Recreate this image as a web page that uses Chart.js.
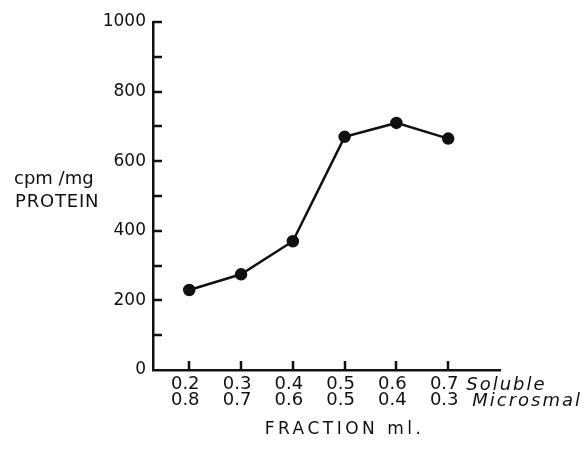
<!DOCTYPE html>
<html>
<head>
<meta charset="utf-8">
<script src="https://cdn.jsdelivr.net/npm/chart.js@4/dist/chart.umd.min.js"></script>
<style>
  html, body { margin: 0; padding: 0; background: #fff; }
  #wrap { width: 583px; height: 453px; position: relative; }
</style>
</head>
<body>
<div id="wrap"><canvas id="c"></canvas></div>
<script>
// Data
const solubleFraction = [0.2, 0.3, 0.4, 0.5, 0.6, 0.7];
const microsomalFraction = [0.8, 0.7, 0.6, 0.5, 0.4, 0.3];
const cpmPerMgProtein = [230, 275, 370, 670, 710, 665];
const yTickValues = [0, 200, 400, 600, 800, 1000];
const yTitleLines = ['cpm /mg', 'PROTEIN'];
const xTitle = 'FRACTION ml.';
const rowNames = ['Soluble', 'Microsmal'];

const INK = '#111';
const FONT = '"DejaVu Sans", sans-serif';

const points = solubleFraction.map((x, i) => ({ x: x, y: cpmPerMgProtein[i] }));

const extrasPlugin = {
  id: 'extras',
  afterDraw(chart) {
    const ctx = chart.ctx;
    const xs = chart.scales.x, ys = chart.scales.y;
    const ca = chart.chartArea;
    ctx.save();
    ctx.strokeStyle = INK;
    ctx.lineWidth = 2.5;
    // inward ticks on y axis (every 100)
    for (let v = 100; v <= 1000; v += 100) {
      const py = Math.round(ys.getPixelForValue(v));
      ctx.beginPath();
      ctx.moveTo(ca.left, py);
      ctx.lineTo(ca.left + 9, py);
      ctx.stroke();
    }
    // inward ticks on x axis
    solubleFraction.forEach(v => {
      const px = Math.round(xs.getPixelForValue(v));
      ctx.beginPath();
      ctx.moveTo(px, ca.bottom);
      ctx.lineTo(px, ca.bottom - 9);
      ctx.stroke();
    });
    ctx.fillStyle = INK;
    // row names after last tick label
    const lastPx = xs.getPixelForValue(solubleFraction[solubleFraction.length - 1]);
    ctx.font = 'italic 18px ' + FONT;
    ctx.textBaseline = 'middle';
    ctx.textAlign = 'left';
    ctx.letterSpacing = '2px';
    ctx.fillText(rowNames[0], lastPx + 18, ca.bottom + 15);
    ctx.fillText(rowNames[1], lastPx + 24, ca.bottom + 31);
    // x title
    ctx.font = '17px ' + FONT;
    ctx.letterSpacing = '3.5px';
    ctx.textAlign = 'center';
    ctx.fillText(xTitle, (ca.left + ca.right) / 2 + 18, ca.bottom + 60);
    // y title
    ctx.font = '18px ' + FONT;
    ctx.textAlign = 'left';
    ctx.letterSpacing = '0px';
    const yt = ys.getPixelForValue(550);
    ctx.fillText(yTitleLines[0], 14, yt + 1);
    ctx.letterSpacing = '0.8px';
    ctx.fillText(yTitleLines[1], 15, yt + 24);
    ctx.restore();
  }
};

new Chart(document.getElementById('c'), {
  type: 'line',
  data: {
    datasets: [{
      data: points,
      borderColor: INK,
      backgroundColor: INK,
      borderWidth: 2.5,
      pointRadius: 5,
      pointHoverRadius: 5,
      pointBackgroundColor: INK,
      pointBorderColor: INK,
      tension: 0,
      fill: false
    }]
  },
  options: {
    responsive: true,
    maintainAspectRatio: false,
    animation: false,
    events: [],
    layout: { padding: { top: 22, right: 83, bottom: 0, left: 0 } },
    plugins: { legend: { display: false }, tooltip: { enabled: false } },
    scales: {
      x: {
        type: 'linear',
        min: 0.13,
        max: 0.8,
        afterBuildTicks(scale) {
          scale.ticks = solubleFraction.map(v => ({ value: v }));
        },
        afterFit(scale) { scale.height = 83; },
        grid: { display: false, drawTicks: false },
        border: { display: true, color: INK, width: 2.5 },
        ticks: {
          color: INK,
          font: { family: FONT, size: 18, lineHeight: 0.9 },
          padding: 6,
          labelOffset: -4,
          maxRotation: 0,
          autoSkip: false,
          callback(value) {
            const i = solubleFraction.findIndex(s => Math.abs(s - value) < 1e-6);
            if (i < 0) return '';
            return [solubleFraction[i].toFixed(1), microsomalFraction[i].toFixed(1)];
          }
        }
      },
      y: {
        min: 0,
        max: 1000,
        afterBuildTicks(scale) {
          scale.ticks = yTickValues.map(v => ({ value: v }));
        },
        afterFit(scale) { scale.width = 153; },
        grid: { display: false, drawTicks: false },
        border: { display: true, color: INK, width: 2.5 },
        ticks: {
          color: INK,
          font: { family: FONT, size: 17 },
          padding: 7,
          callback(value) { return String(value); }
        }
      }
    }
  },
  plugins: [extrasPlugin]
});
</script>
</body>
</html>
